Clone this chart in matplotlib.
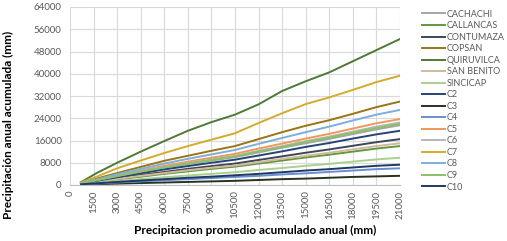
import matplotlib
matplotlib.use("Agg")
import matplotlib.pyplot as plt

# cumulative mean annual precipitation (x axis)
x = [700, 1700, 3000, 4500, 6000, 7500, 9000, 10500, 12000, 13500, 15000, 16500, 18000, 19500, 21000]

names = ["CACHACHI", "CALLANCAS", "CONTUMAZA", "COPSAN", "QUIRUVILCA", "SAN BENITO", "SINCICAP",
         "C2", "C3", "C4", "C5", "C6", "C7", "C8", "C9", "C10"]

cachachi = [600, 1700, 3100, 4600, 6100, 7500, 8800, 10000, 11700, 13400, 15000, 16600, 18300, 20000, 21500]
callancas = [400, 1100, 2000, 3000, 4000, 4900, 5800, 6600, 7700, 8800, 9900, 10900, 12000, 13100, 14000]
contumaza = [500, 1300, 2400, 3600, 4700, 5800, 6800, 7700, 9000, 10300, 11600, 12800, 14100, 15400, 16500]
copsan = [800, 2300, 4300, 6500, 8700, 10500, 12300, 14000, 16500, 19000, 21300, 23300, 25600, 28000, 30000]
quiruvilca = [1000, 4300, 8000, 12000, 15800, 19500, 22600, 25300, 29000, 33800, 37300, 40500, 44500, 48500, 52500]
san_benito = [450, 1200, 2200, 3300, 4300, 5300, 6200, 7000, 8200, 9400, 10500, 11600, 12800, 14000, 15000]
sincicap = [300, 800, 1400, 2100, 2800, 3400, 4000, 4600, 5400, 6100, 6900, 7600, 8400, 9200, 9800]
c2 = [500, 1500, 2800, 4200, 5600, 6800, 8000, 9100, 10600, 12100, 13700, 15100, 16700, 18200, 19500]
c3 = [100, 300, 500, 700, 900, 1100, 1300, 1500, 1800, 2100, 2300, 2600, 2900, 3100, 3300]
c4 = [200, 500, 900, 1300, 1700, 2100, 2500, 2900, 3300, 3800, 4200, 4700, 5200, 5700, 6000]
c5 = [700, 1900, 3500, 5200, 6900, 8400, 9800, 11200, 13100, 14900, 16700, 18400, 20300, 22200, 23700]
c6 = [650, 1800, 3300, 4900, 6500, 7900, 9200, 10500, 12300, 14000, 15800, 17400, 19200, 21000, 22500]
c7 = [900, 3000, 6000, 8800, 11500, 14000, 16300, 18600, 22300, 25800, 29100, 31500, 34200, 37000, 39300]
c8 = [700, 2000, 3900, 5800, 7700, 9400, 11000, 12600, 14800, 16900, 19000, 21000, 23200, 25300, 27000]
c9 = [600, 1700, 3200, 4800, 6300, 7700, 9000, 10300, 12000, 13700, 15400, 17000, 18800, 20500, 22000]
c10 = [250, 600, 1100, 1600, 2100, 2600, 3000, 3500, 4000, 4600, 5200, 5700, 6300, 6900, 7300]

series = [cachachi, callancas, contumaza, copsan, quiruvilca, san_benito, sincicap,
          c2, c3, c4, c5, c6, c7, c8, c9, c10]
colors = ["#a5a5a5", "#5f9a3c", "#3f4657", "#9a7512", "#4e7a35", "#d2b89c", "#a9d18e",
          "#264478", "#27331f", "#698ed0", "#f1975a", "#b7b7b7", "#d4ac2a", "#7cafdd", "#8cc168", "#1f3864"]

plt.rcParams["font.family"] = ["Lato", "DejaVu Sans"]

fig = plt.figure(figsize=(5.07, 2.41), dpi=100)
ax = fig.add_axes([70/507, 1 - 185/241, 330/507, 178/241])

for name, ys, col in zip(names, series, colors):
    ax.plot(x, ys, color=col, lw=1.4, label=name)

ax.set_xlim(0, 21000)
ax.set_ylim(0, 64000)
ax.set_xticks(range(0, 21001, 1500))
ax.set_yticks(range(0, 64001, 8000))
ax.tick_params(axis="x", labelrotation=90, labelsize=7, colors="#595959", length=0, pad=4)
ax.tick_params(axis="y", labelsize=7, colors="#595959", length=0, pad=6)
ax.grid(color="#d9d9d9", lw=0.8)
ax.set_axisbelow(True)
for s in ["top", "right", "left"]:
    ax.spines[s].set_visible(False)
ax.spines["bottom"].set_color("#bfbfbf")

fig.text(0.016, 1 - 125/241, "Precipitación anual acumulada (mm)", rotation=90,
         ha="center", va="center", fontsize=8.5, fontweight="bold")
fig.text(255/507, 1 - 230/241, "Precipitacion promedio acumulado anual (mm)",
         ha="center", va="center", fontsize=8.5, fontweight="bold")

leg = fig.legend(loc="upper left", bbox_to_anchor=(418/507, 1 - 6/241), frameon=False,
                 fontsize=6.5, handlelength=2.6, handletextpad=0.2, labelspacing=0.28,
                 borderaxespad=0)
for t in leg.get_texts():
    t.set_color("#595959")

fig.savefig("out.png", dpi=100)
